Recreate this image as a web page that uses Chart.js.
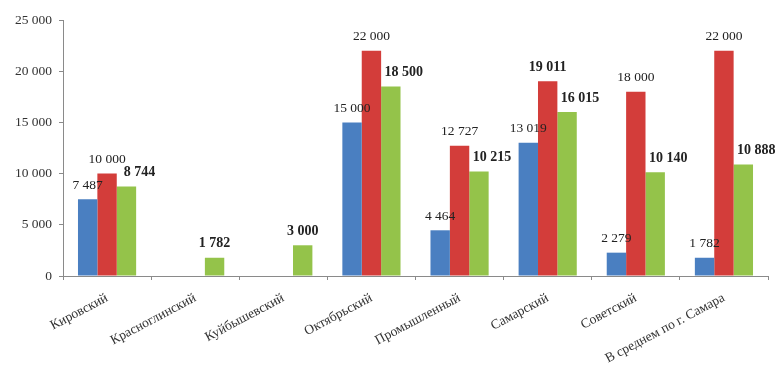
<!DOCTYPE html>
<html>
<head>
<meta charset="utf-8">
<script src="https://cdn.jsdelivr.net/npm/chart.js@4/dist/chart.umd.min.js"></script>
<style>
  html, body { margin: 0; padding: 0; background: #fff; }
  #wrap { width: 779px; height: 365px; position: relative; }
</style>
</head>
<body>
<div id="wrap"><canvas id="chart"></canvas></div>
<script>
// Районы
const categories = ['Кировский', 'Красноглинский', 'Куйбышевский', 'Октябрьский',
    'Промышленный', 'Самарский', 'Советский', 'В среднем по г. Самара'];

// Ряды значений
const blueValues = [7487, null, null, 15000, 4464, 13019, 2279, 1782];
const redValues = [10000, null, null, 22000, 12727, 19011, 18000, 22000];
const greenValues = [8744, 1782, 3000, 18500, 10215, 16015, 10140, 10888];

// Ось Y
const yTicks = [0, 5000, 10000, 15000, 20000, 25000];

const serif = "'Liberation Serif', 'Times New Roman', serif";

function fmt(v) {
    return String(v).replace(/\B(?=(\d{3})+(?!\d))/g, ' ');
}

// Подписи значений над столбцами
const valueLabels = {
    id: 'valueLabels',
    afterDatasetsDraw(chart) {
        const ctx = chart.ctx;
        ctx.save();
        ctx.textAlign = 'center';
        ctx.textBaseline = 'middle';
        ctx.fillStyle = '#222';
        chart.data.datasets.forEach((ds, di) => {
            const meta = chart.getDatasetMeta(di);
            meta.data.forEach((bar, i) => {
                const v = ds.data[i];
                if (v === null || v === undefined) return;
                let bold = di === 2 || (di === 1 && i === 5);
                let dx = 0;
                if (di === 2 && redValues[i] !== null) dx = 13;
                ctx.font = (bold ? 'bold 14px ' : '13.5px ') + serif;
                ctx.fillText(fmt(v), bar.x + dx, bar.y - 14);
            });
        });
        ctx.restore();
    }
};

new Chart(document.getElementById('chart'), {
    type: 'bar',
    data: {
        labels: categories,
        datasets: [
            { data: blueValues, backgroundColor: '#4a7fc1' },
            { data: redValues, backgroundColor: '#d33d3a' },
            { data: greenValues, backgroundColor: '#94c34a' }
        ]
    },
    options: {
        responsive: true,
        maintainAspectRatio: false,
        animation: false,
        layout: { padding: { top: 20, right: 11, left: 0, bottom: 0 } },
        datasets: {
            bar: {
                categoryPercentage: 0.66,
                barPercentage: 1.0,
                borderWidth: 0
            }
        },
        plugins: {
            legend: { display: false },
            tooltip: { enabled: false }
        },
        scales: {
            x: {
                offset: true,
                grid: {
                    offset: true,
                    drawOnChartArea: false,
                    drawTicks: true,
                    tickLength: 4,
                    color: '#8a8a8a'
                },
                border: { color: '#8a8a8a', width: 1 },
                ticks: {
                    color: '#333',
                    maxRotation: 28,
                    minRotation: 28,
                    padding: 10,
                    font: { family: serif, size: 13.5 }
                },
                afterFit(axis) { axis.height = 89; }
            },
            y: {
                min: 0,
                max: 25000,
                afterBuildTicks(axis) {
                    axis.ticks = yTicks.map(v => ({ value: v }));
                },
                grid: {
                    drawOnChartArea: false,
                    drawTicks: true,
                    tickLength: 4,
                    color: '#8a8a8a'
                },
                border: { color: '#8a8a8a', width: 1 },
                ticks: {
                    color: '#333',
                    padding: 7,
                    font: { family: serif, size: 13.5 },
                    callback: (v) => fmt(v)
                },
                afterFit(axis) { axis.width = 63; }
            }
        }
    },
    plugins: [valueLabels]
});
</script>
</body>
</html>
